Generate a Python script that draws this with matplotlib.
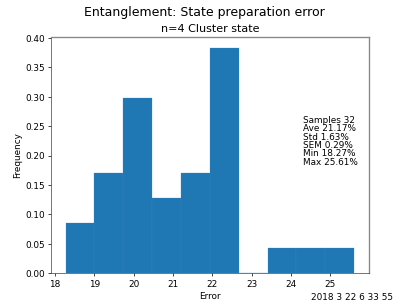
import matplotlib
matplotlib.use("Agg")
import matplotlib.pyplot as plt
import numpy as np

# histogram of state preparation error (%), 10 bins between min and max
err_min = 18.27
err_max = 25.61
counts = [2, 4, 7, 3, 4, 9, 0, 1, 1, 1]
stats_lines = ["Samples 32", "Ave 21.17%", "Std 1.63%", "SEM 0.29%", "Min 18.27%", "Max 25.61%"]
stamp = "2018 3 22 6 33 55"

edges = np.linspace(err_min, err_max, len(counts) + 1)
centers = (edges[:-1] + edges[1:]) / 2

fig, ax = plt.subplots(figsize=(6.4, 4.8), dpi=64)
ax.hist(centers, bins=edges, weights=counts, density=True, color="#1f77b4",
        edgecolor="#3d88c4", linewidth=0.3)

fig.suptitle("Entanglement: State preparation error", fontsize=14, y=0.98)
ax.set_title("n=4 Cluster state", fontsize=12.5)
ax.set_xlabel("Error", fontsize=10)
ax.set_ylabel("Frequency", fontsize=10)

for s in ["top", "right"]:
    ax.spines[s].set_color("#888888")
    ax.spines[s].set_linewidth(1.5)
for s in ["left", "bottom"]:
    ax.spines[s].set_color("#444444")

ax.text(0.794, 0.665, "\n".join(stats_lines), transform=ax.transAxes,
        fontsize=10, va="top", ha="left", linespacing=0.9)
fig.text(0.76, 0.025, stamp, fontsize=10)

plt.savefig("out.png", dpi=64)
